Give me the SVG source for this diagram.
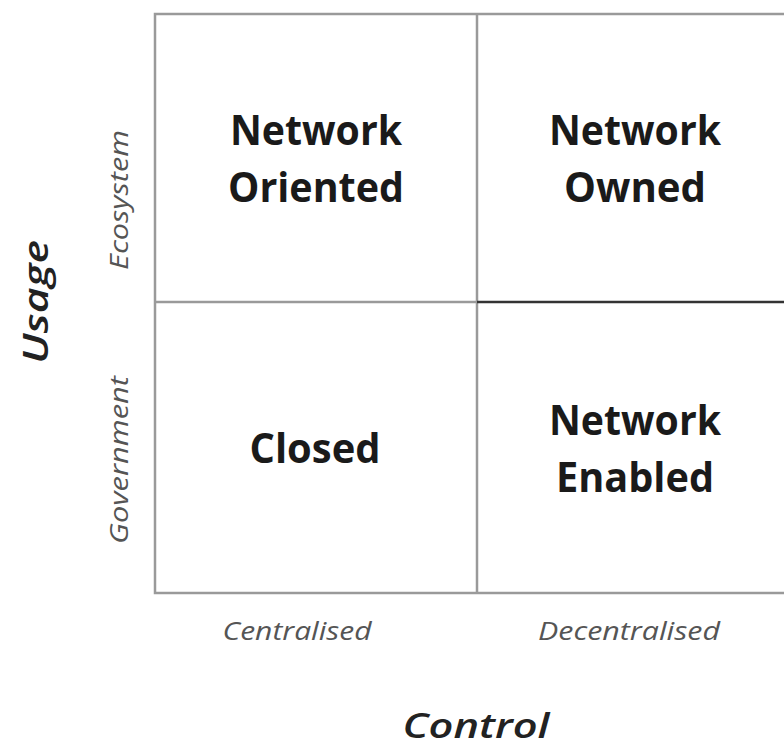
<svg xmlns="http://www.w3.org/2000/svg" width="784" height="747" viewBox="0 0 784 747">
<style>
.q{font-family:"Open Sans","Liberation Sans",sans-serif;font-weight:bold;font-size:42px;fill:#1a1a1a;text-anchor:middle}
.ax{font-family:"Open Sans","Liberation Sans",sans-serif;font-style:italic;font-size:25px;fill:#555;text-anchor:middle}
.tt{font-family:"Open Sans","Liberation Sans",sans-serif;font-style:italic;font-weight:600;font-size:35px;fill:#222;text-anchor:middle}
.ln{stroke:#9a9a9a;stroke-width:2.5;fill:none}
</style>
<rect width="784" height="747" fill="#fff"/>
<g id="grid">
<path class="ln" d="M800 14 H155 V593 H800"/>
<path class="ln" d="M477 14 V593"/>
<path class="ln" d="M155 302 H477"/>
<path d="M477 302 H800" stroke="#333" stroke-width="2.5"/>
</g>
<g id="q-network-oriented">
<text class="q" x="316" y="145" textLength="172" lengthAdjust="spacingAndGlyphs">Network</text>
<text class="q" x="316" y="202" textLength="176" lengthAdjust="spacingAndGlyphs">Oriented</text>
</g>
<g id="q-network-owned">
<text class="q" x="635" y="145" textLength="172" lengthAdjust="spacingAndGlyphs">Network</text>
<text class="q" x="635" y="202" textLength="142" lengthAdjust="spacingAndGlyphs">Owned</text>
</g>
<g id="q-closed">
<text class="q" x="315" y="463" textLength="131" lengthAdjust="spacingAndGlyphs">Closed</text>
</g>
<g id="q-network-enabled">
<text class="q" x="635" y="435" textLength="172" lengthAdjust="spacingAndGlyphs">Network</text>
<text class="q" x="635" y="492" textLength="158" lengthAdjust="spacingAndGlyphs">Enabled</text>
</g>
<g id="axis-labels">
<text class="ax" x="297" y="640" textLength="149" lengthAdjust="spacingAndGlyphs">Centralised</text>
<text class="ax" x="629" y="640" textLength="182" lengthAdjust="spacingAndGlyphs">Decentralised</text>
<text class="ax" transform="translate(128 200) rotate(-90)" x="0" y="0" textLength="140" lengthAdjust="spacingAndGlyphs">Ecosystem</text>
<text class="ax" transform="translate(128 460) rotate(-90)" x="0" y="0" textLength="168" lengthAdjust="spacingAndGlyphs">Government</text>
<text class="tt" x="476" y="738" textLength="147" lengthAdjust="spacingAndGlyphs">Control</text>
<text class="tt" transform="translate(48 302) rotate(-90)" x="0" y="0" textLength="124" lengthAdjust="spacingAndGlyphs">Usage</text>
</g>
</svg>
